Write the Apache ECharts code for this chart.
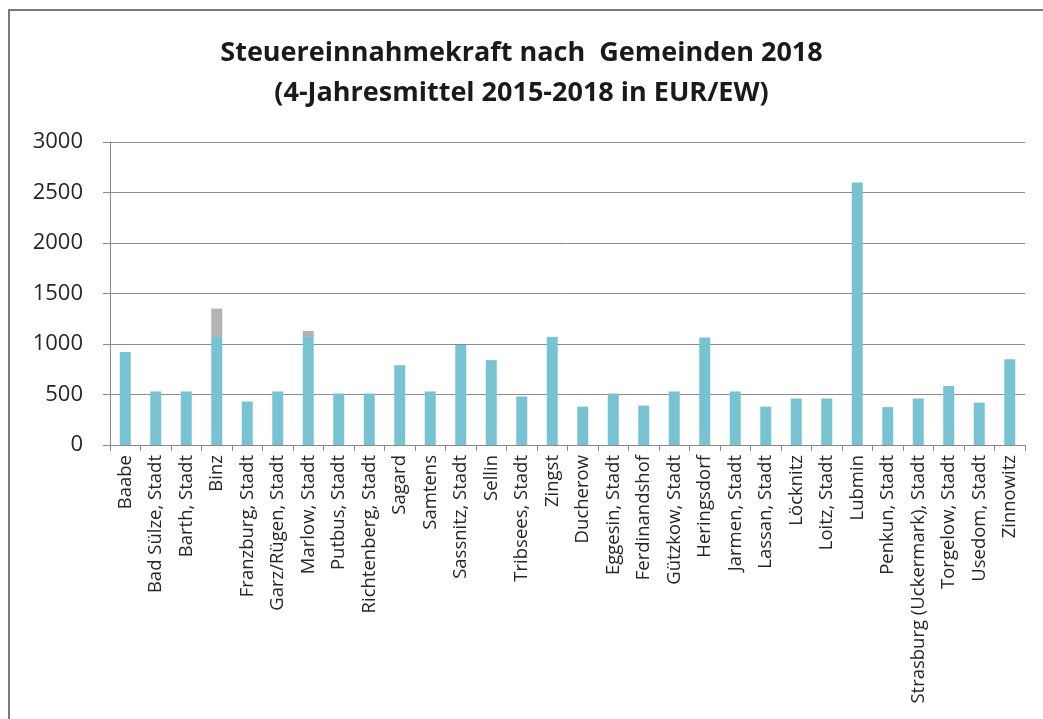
<!DOCTYPE html>
<html>
<head>
<meta charset="utf-8">
<script src="https://cdn.jsdelivr.net/npm/echarts@6/dist/echarts.min.js"></script>
<style>
  html, body { margin: 0; padding: 0; background: #ffffff; }
  #chart { width: 1043px; height: 719px; }
</style>
</head>
<body>
<div id="chart"></div>
<script>
// Gemeinden (x-axis categories)
const gemeinden = [
  'Baabe', 'Bad Sülze, Stadt', 'Barth, Stadt', 'Binz', 'Franzburg, Stadt',
  'Garz/Rügen, Stadt', 'Marlow, Stadt', 'Putbus, Stadt', 'Richtenberg, Stadt',
  'Sagard', 'Samtens', 'Sassnitz, Stadt', 'Sellin', 'Tribsees, Stadt', 'Zingst',
  'Ducherow', 'Eggesin, Stadt', 'Ferdinandshof', 'Gützkow, Stadt', 'Heringsdorf',
  'Jarmen, Stadt', 'Lassan, Stadt', 'Löcknitz', 'Loitz, Stadt', 'Lubmin',
  'Penkun, Stadt', 'Strasburg (Uckermark), Stadt', 'Torgelow, Stadt',
  'Usedom, Stadt', 'Zinnowitz'
];

// Steuereinnahmekraft, EUR/EW (blue part of each bar)
const steuerkraft = [
  920, 530, 530, 1070, 430,
  530, 1070, 510, 510,
  790, 530, 990, 840, 480, 1070,
  380, 510, 390, 530, 1065,
  530, 380, 460, 460, 2600,
  375, 460, 585,
  420, 850
];

// Grey top segment stacked on the blue bars
const aufschlag = [
  null, null, null, 280, null,
  null, 60, null, null,
  null, null, null, null, null, null,
  null, null, null, null, null,
  null, null, null, null, null,
  null, null, null,
  null, null
];

// Y-axis scale
const yMin = 0, yMax = 3000, yStep = 500;

const titleLines = [
  'Steuereinnahmekraft nach  Gemeinden 2018',
  '(4-Jahresmittel 2015-2018 in EUR/EW)'
];

const chart = echarts.init(document.getElementById('chart'), null, { renderer: 'canvas' });

const font = '"Open Sans", "Noto Sans", sans-serif';

chart.setOption({
  backgroundColor: '#ffffff',
  animation: false,
  title: {
    text: titleLines.join('\n'),
    left: 'center',
    top: 28,
    textStyle: {
      fontFamily: font,
      fontSize: 27,
      fontWeight: 'bold',
      color: '#1a1a1a',
      lineHeight: 40
    }
  },
  graphic: [{
    type: 'rect',
    silent: true,
    shape: { x: 9, y: 10, width: 1040, height: 720 },
    style: { fill: 'none', stroke: '#7a7a7a', lineWidth: 2 }
  }],
  grid: { left: 110, right: 18, top: 142, bottom: 274, containLabel: false },
  xAxis: {
    type: 'category',
    data: gemeinden,
    axisLine: { lineStyle: { color: '#8a8a8a', width: 1 } },
    axisTick: { show: true, length: 6, alignWithLabel: false, lineStyle: { color: '#8a8a8a' } },
    axisLabel: {
      interval: 0,
      rotate: 90,
      margin: 10,
      fontFamily: font,
      fontSize: 18.5,
      color: '#262626'
    }
  },
  yAxis: {
    type: 'value',
    min: yMin,
    max: yMax,
    interval: yStep,
    axisLine: { show: true, lineStyle: { color: '#8a8a8a', width: 1 } },
    axisTick: { show: true, length: 7, lineStyle: { color: '#8a8a8a' } },
    splitLine: { lineStyle: { color: '#8c8c8c', width: 1 } },
    axisLabel: {
      margin: 27,
      fontFamily: font,
      fontSize: 22,
      color: '#262626',
      formatter: v => String(v)
    }
  },
  series: [
    {
      name: 'Steuereinnahmekraft',
      type: 'bar',
      stack: 'gesamt',
      data: steuerkraft,
      barWidth: 11,
      itemStyle: { color: '#78c3d2' }
    },
    {
      name: 'Aufschlag',
      type: 'bar',
      stack: 'gesamt',
      data: aufschlag,
      barWidth: 11,
      itemStyle: { color: '#b3b3b3' }
    }
  ]
});
</script>
</body>
</html>
